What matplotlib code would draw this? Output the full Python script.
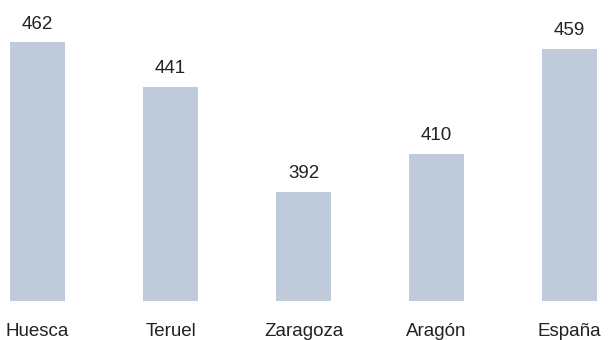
import matplotlib
matplotlib.use("Agg")
import matplotlib.pyplot as plt
from matplotlib.transforms import blended_transform_factory

categories = ["Huesca", "Teruel", "Zaragoza", "Aragón", "España"]
values = [462, 441, 392, 410, 459]
baseline = 341

plt.rcParams["font.family"] = ["Liberation Sans", "DejaVu Sans"]

fig = plt.figure(figsize=(6.09, 3.40), dpi=100)
ax = fig.add_axes([0, 0, 1, 1])
ax.set_xlim(-0.282, 4.297)
ax.set_ylim(322.98, 481.86)
ax.axis("off")

xs = list(range(len(categories)))
heights = [v - baseline for v in values]
ax.bar(xs, heights, bottom=baseline, width=0.41, color="#BFCBDB")

for x, v in zip(xs, values):
    ax.annotate(f"{v}", xy=(x, v), xytext=(0, 13.3), textcoords="offset points",
                ha="center", va="center", fontsize=13.5, color="#222222")

# category names sit in a fixed band under the bars
trans = blended_transform_factory(ax.transData, fig.transFigure)
for x, c in zip(xs, categories):
    ax.text(x, 1 - 331 / 340, c, transform=trans, ha="center", va="center",
            fontsize=13.5, color="#222222")

fig.savefig("out.png", dpi=100)
